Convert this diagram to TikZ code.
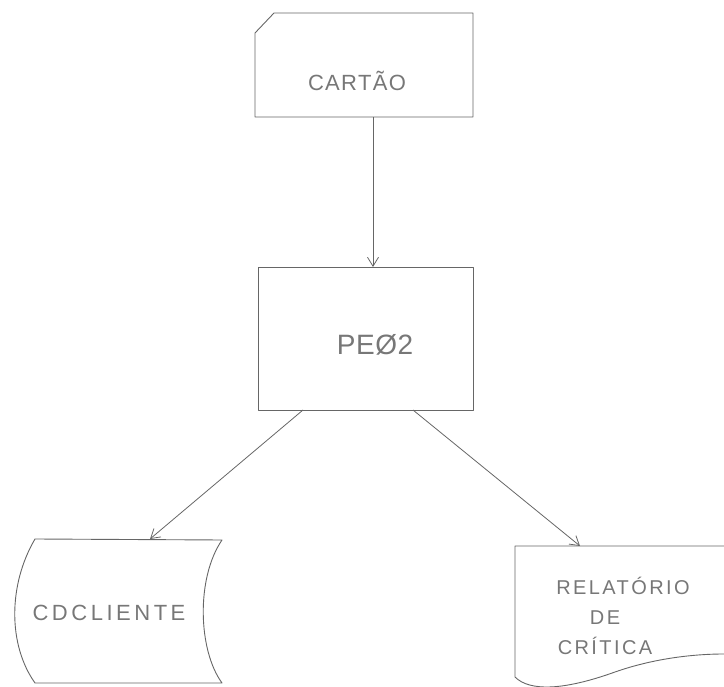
\documentclass[tikz,border=0pt]{standalone}
\usepackage{fontspec}
\setmainfont{Liberation Sans}
\newfontfamily\handA[LetterSpace=6]{Liberation Sans}
\newfontfamily\handB[LetterSpace=16]{Liberation Sans}
\newfontfamily\handD[LetterSpace=12]{Liberation Sans}
\newfontfamily\handC[LetterSpace=2]{Liberation Sans}
\usetikzlibrary{arrows.meta}
\definecolor{pencil}{HTML}{666666}
\definecolor{pentext}{HTML}{777777}
\tikzset{
  shapebox/.style={draw=none, inner sep=0pt, outer sep=0pt},
  outline/.style={draw=pencil, line width=0.9pt, line join=round},
  label/.style={text=pentext, inner sep=0pt, align=center},
  arr/.style={draw=pencil, line width=0.8pt, -{Straight Barb[length=9pt,width=11pt]}},
}
\begin{document}
\begin{tikzpicture}[x=1pt,y=-1pt]
\useasboundingbox (0,0) rectangle (724,687);
% invisible boxes for the shapes
\node[shapebox, minimum width=218pt, minimum height=104pt] (card) at (364,65) {};
\node[shapebox, minimum width=215pt, minimum height=143pt] (proc) at (365.5,338.5) {};
\node[shapebox, minimum width=187pt, minimum height=144pt] (cd) at (128.5,611) {};
\node[shapebox, minimum width=209pt, minimum height=134pt] (rel) at (619.5,613) {};
% card shape
\draw[outline] (card.south west) -- ([yshift=-20pt]card.north west) -- ([xshift=19pt]card.north west) -- (card.north east) -- (card.south east) -- cycle;
% process
\draw[outline] (proc.south west) rectangle (proc.north east);
% stored data
\draw[outline] (35,539) .. controls (8,585) and (8,645) .. (35,683) -- (222,683) .. controls (198,650) and (196,578) .. (222,540) -- cycle;
% document
\draw[outline] (724,546) -- (515,546) -- (515,677) .. controls (530,692) and (565,690) .. (615,672) .. controls (655,658) and (695,654) .. (724,654);
% texts
\node[label, font=\handA\fontsize{22}{25}\selectfont] (cardtxt) at (357,81) {CARTÃO};
\node[label, font=\handC\fontsize{28}{31}\selectfont] (proctxt) at (375,345) {PEØ2};
\node[label, font=\handB\fontsize{22}{25}\selectfont] (cdtxt) at (109,613) {CDCLIENTE};
\node[label, font=\handD\fontsize{20}{30}\selectfont] (reltxt) at (605,616) {\hspace*{36pt}RELATÓRIO\\DE\\CRÍTICA};
% connectors
\draw[arr] ([xshift=9pt]card.south) -- ([xshift=7.5pt]proc.north);
\draw[arr] ([xshift=-62.5pt]proc.south) -- ([xshift=21.5pt]cd.north);
\draw[arr] ([xshift=47.5pt]proc.south) -- ([xshift=-39.5pt]rel.north);
\end{tikzpicture}
\end{document}
